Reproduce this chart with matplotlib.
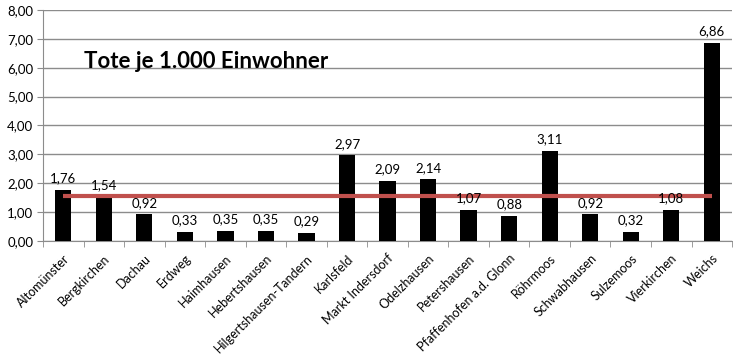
import matplotlib
matplotlib.use("Agg")
import matplotlib.pyplot as plt
import numpy as np

categories = ["Altomünster", "Bergkirchen", "Dachau", "Erdweg", "Haimhausen",
              "Hebertshausen", "Hilgertshausen-Tandern", "Karlsfeld", "Markt Indersdorf",
              "Odelzhausen", "Petershausen", "Pfaffenhofen a.d. Glonn", "Röhrmoos",
              "Schwabhausen", "Sulzemoos", "Vierkirchen", "Weichs"]
values = [1.76, 1.54, 0.92, 0.33, 0.35, 0.35, 0.29, 2.97, 2.09, 2.14, 1.07, 0.88,
          3.11, 0.92, 0.32, 1.08, 6.86]
average = 1.55
title = "Tote je 1.000 Einwohner"

plt.rcParams['font.family'] = ['Lato', 'DejaVu Sans']

fig = plt.figure(figsize=(7.33, 3.55), dpi=100)
ax = fig.add_axes([0.0587, 0.321, 0.9400, 0.651])

x = np.arange(len(categories))
ax.bar(x, values, width=0.4, color="black", zorder=3)
ax.plot([x[0], x[-1]], [average] * 2, color="#C0504D", lw=3, zorder=4,
        solid_capstyle="butt")

for xi, v in zip(x, values):
    ax.annotate(f"{v:.2f}".replace(".", ","), (xi, v), xytext=(0, 4),
                textcoords="offset points", ha="center", va="bottom",
                fontsize=9.5, zorder=5)

ax.set_xlim(-0.5, len(categories) - 0.5)
ax.set_ylim(0, 8)
ax.set_yticks(np.arange(0, 9, 1))
ax.set_yticklabels([f"{t:.2f}".replace(".", ",") for t in np.arange(0, 9, 1)],
                   fontsize=9.5)
ax.yaxis.grid(True, color="#8c8c8c", lw=1, zorder=0)
ax.set_axisbelow(True)

ax.set_xticks(x)
ax.set_xticklabels(categories, rotation=45, ha="right", rotation_mode="anchor",
                   fontsize=9)
ax.tick_params(axis="x", length=0, pad=8)
ax.set_xticks(np.arange(-0.5, len(categories) + 0.5, 1), minor=True)
ax.tick_params(axis="x", which="minor", length=4, color="#8c8c8c")
ax.tick_params(axis="y", length=4, color="#8c8c8c", pad=3)

for s in ["top", "right"]:
    ax.spines[s].set_visible(False)
for s in ["left", "bottom"]:
    ax.spines[s].set_color("#8c8c8c")

ax.text(0.06, 0.775, title, transform=ax.transAxes, fontsize=16,
        fontweight="bold", ha="left", va="center")

fig.savefig("out.png", dpi=100)
